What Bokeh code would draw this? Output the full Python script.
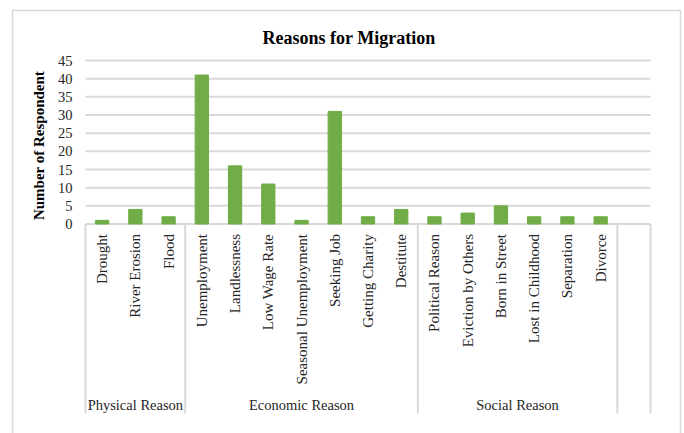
import math
import numpy as np
from bokeh.plotting import figure
from bokeh.models import ColumnDataSource, Range1d
from bokeh.core.properties import value
from bokeh.embed import file_html
from bokeh.resources import INLINE

# ---------------- data ----------------
groups = ["Physical Reason", "Economic Reason", "Social Reason"]
group_sizes = [3, 7, 6]
categories = ["Drought", "River Erosion", "Flood",
              "Unemployment", "Landlessness", "Low Wage Rate", "Seasonal Unemployment",
              "Seeking Job", "Getting Charity", "Destitute",
              "Political Reason", "Eviction by Others", "Born in Street",
              "Lost in Childhood", "Separation", "Divorce"]
values = [1, 4, 2, 41, 16, 11, 1, 31, 2, 4, 2, 3, 5, 2, 2, 2]
y_ticks = [0, 5, 10, 15, 20, 25, 30, 35, 40, 45]
y_tick_labels = [str(t) for t in y_ticks]
title_text = "Reasons for Migration"
y_title = "Number of Respondent"

# ---------------- layout (pixel anchors of the chart area) ----------------
n_slots = len(categories) + 1          # one trailing empty slot
W, H = 684, 433
plot_left, plot_right = 85, 650        # x of category slot 0 and slot end
zero_px, top_px = 223.5, 60            # y pixel of value 0 and of the top tick
y_max = y_ticks[-1]
k = (zero_px - top_px) / y_max         # px per value unit
xk = (plot_right - plot_left) / n_slots  # px per slot


def px_x(px):
    return (px - plot_left) / xk


def px_y(py):
    return (zero_px - py) / k


FONT = value("Liberation Serif")
GRID = "#d9d9d9"
TXT = "#262626"

p = figure(width=W, height=H,
           x_range=Range1d(px_x(0), px_x(W)), y_range=Range1d(px_y(H), px_y(0)),
           output_backend="svg", toolbar_location=None,
           x_axis_location=None, y_axis_location=None,
           min_border=0, min_border_left=0, min_border_right=0,
           min_border_top=0, min_border_bottom=0,
           outline_line_color=None, background_fill_color="white",
           border_fill_color="white")
p.xgrid.visible = False
p.ygrid.visible = False

# outer chart border
p.quad(left=[px_x(12)], right=[px_x(680)], top=[px_y(10)], bottom=[px_y(H + 40)],
       fill_color=None, line_color=GRID, line_width=1.5)

# horizontal gridlines
p.segment(x0=[0] * len(y_ticks), x1=[n_slots] * len(y_ticks), y0=y_ticks, y1=y_ticks,
          line_color=GRID, line_width=2)

# y tick labels
p.text(x=[px_x(72)] * len(y_ticks), y=y_ticks, text=y_tick_labels,
       text_align="right", text_baseline="middle", text_font=FONT,
       text_font_size="14.5px", text_color=TXT)

# bars
xs = [i + 0.5 for i in range(len(categories))]
src = ColumnDataSource(dict(x=xs, top=values, cat=categories))
p.vbar(x="x", top="top", bottom=0, width=0.4, source=src,
       fill_color="#70AD47", line_color="#70AD47")

# category labels (vertical)
p.text(x="x", y=px_y(zero_px + 10), text="cat", source=src, angle=math.pi / 2,
       text_align="right", text_baseline="middle", text_font=FONT,
       text_font_size="15px", text_color=TXT)

# group separators and labels
bounds = [0] + [int(b) for b in np.cumsum(group_sizes)] + [n_slots]
p.segment(x0=bounds, y0=[0] * len(bounds), x1=bounds, y1=[px_y(413)] * len(bounds),
          line_color=GRID, line_width=2)
starts = [0] + [int(b) for b in np.cumsum(group_sizes)][:-1]
gx = [s + g / 2 for s, g in zip(starts, group_sizes)]
p.text(x=gx, y=[px_y(404)] * len(gx), text=groups, text_align="center",
       text_baseline="middle", text_font=FONT, text_font_size="14.5px", text_color=TXT)

# title and y title
p.text(x=[px_x(348.5)], y=[px_y(37)], text=[title_text], text_align="center",
       text_baseline="middle", text_font=FONT, text_font_style="bold",
       text_font_size="18px", text_color="black")
p.text(x=[px_x(38.5)], y=[px_y(145)], text=[y_title], angle=math.pi / 2,
       text_align="center", text_baseline="middle", text_font=FONT,
       text_font_style="bold", text_font_size="15px", text_color="black")

open("out.html", "w").write(file_html(p, INLINE))
